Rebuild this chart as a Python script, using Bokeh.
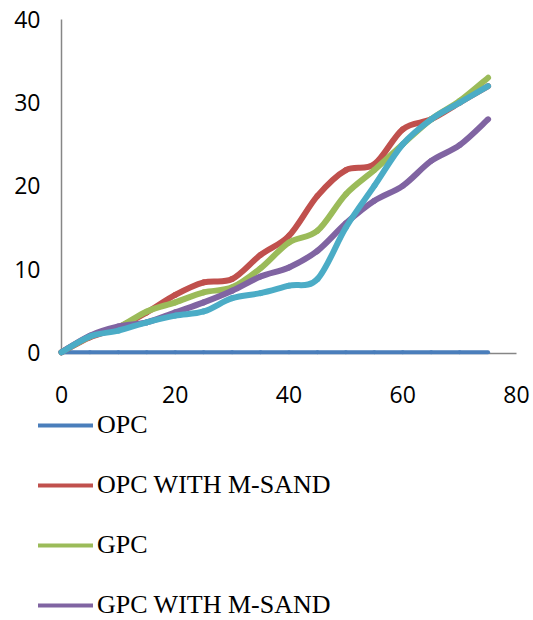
from bokeh.plotting import figure
from bokeh.layouts import column
from bokeh.models import ColumnDataSource, Range1d, Legend, LegendItem, FixedTicker
from bokeh.embed import file_html
from bokeh.resources import INLINE

# ---- data ----
x_vals = [0, 5, 10, 15, 20, 25, 30, 35, 40, 45, 50, 55, 60, 65, 70, 75]
opc = [0, 0, 0, 0, 0, 0, 0, 0, 0, 0, 0, 0, 0, 0, 0, 0]
opc_msand = [0, 1.8, 3, 4.8, 6.9, 8.4, 8.8, 11.7, 14, 18.8, 21.9, 22.6, 26.8, 28, 30, 32]
gpc = [0, 1.9, 3, 4.9, 6, 7.2, 7.8, 10.1, 13.2, 14.6, 19, 21.9, 25, 28, 30.2, 33]
gpc_msand = [0, 2, 3.1, 3.6, 4.8, 6, 7.4, 9.1, 10.2, 12.2, 15.5, 18.2, 20, 23, 24.9, 28]
fifth = [0, 1.9, 2.6, 3.6, 4.4, 4.9, 6.5, 7.1, 8, 8.8, 15, 20, 25, 28, 30, 32]

series_names = ["OPC", "OPC WITH M-SAND", "GPC", "GPC WITH M-SAND", None]
series_values = [opc, opc_msand, gpc, gpc_msand, fifth]
series_colors = ["#4A7EBB", "#C0504D", "#9BBB59", "#8064A2", "#4BACC6"]
series_widths = [4, 6, 6, 6, 6]

x_ticks = [0, 20, 40, 60, 80]
y_ticks = [0, 10, 20, 30, 40]


def smooth_source(xs, ys):
    """Catmull-Rom smoothing expressed as cubic Bezier segments (like a smoothed line)."""
    n = len(xs)
    d = dict(x0=[], y0=[], x1=[], y1=[], cx0=[], cy0=[], cx1=[], cy1=[])
    for i in range(n - 1):
        a = max(i - 1, 0)
        b = min(i + 2, n - 1)
        d["x0"].append(xs[i]); d["y0"].append(ys[i])
        d["x1"].append(xs[i + 1]); d["y1"].append(ys[i + 1])
        d["cx0"].append(xs[i] + (xs[i + 1] - xs[a]) / 6.0)
        d["cy0"].append(ys[i] + (ys[i + 1] - ys[a]) / 6.0)
        d["cx1"].append(xs[i + 1] - (xs[b] - xs[i]) / 6.0)
        d["cy1"].append(ys[i + 1] - (ys[b] - ys[i]) / 6.0)
    return ColumnDataSource(d)


# ---- main chart ----
p = figure(width=533, height=410, output_backend="svg", toolbar_location=None,
           x_range=Range1d(0, 80), y_range=Range1d(-0.15, 40),
           min_border_left=61, min_border_right=17, min_border_top=19,
           min_border_bottom=57, title=None)
p.frame_align = False
p.outline_line_color = None
p.xgrid.grid_line_color = None
p.ygrid.grid_line_color = None
p.background_fill_color = "white"
p.border_fill_color = "white"

for ax in (p.xaxis[0], p.yaxis[0]):
    ax.axis_line_color = "#868686"
    ax.axis_line_width = 1.5
    ax.major_tick_line_color = None
    ax.minor_tick_line_color = None
    ax.major_tick_out = 0
    ax.major_tick_in = 0
    ax.minor_tick_out = 0
    ax.major_label_text_font = "Open Sans"
    ax.major_label_text_font_size = "23px"
    ax.major_label_text_color = "black"

p.xaxis[0].ticker = FixedTicker(ticks=x_ticks)
p.yaxis[0].ticker = FixedTicker(ticks=y_ticks)
p.xaxis[0].major_label_standoff = 32
p.yaxis[0].major_label_standoff = 21

for vals, col, w in zip(series_values, series_colors, series_widths):
    src = smooth_source(x_vals, vals)
    p.bezier(x0="x0", y0="y0", x1="x1", y1="y1", cx0="cx0", cy0="cy0",
             cx1="cx1", cy1="cy1", source=src, line_color=col,
             line_width=w, line_cap="round", level="overlay")

# ---- legend panel below the chart ----
lg = figure(width=533, height=210, output_backend="svg", toolbar_location=None,
            x_range=Range1d(0, 1), y_range=Range1d(0, 1),
            x_axis_location=None, y_axis_location=None,
            min_border=0, min_border_left=0, min_border_right=0,
            min_border_top=0, min_border_bottom=0, title=None)
lg.frame_align = False
lg.outline_line_color = None
lg.xgrid.grid_line_color = None
lg.ygrid.grid_line_color = None

items = []
for name, col in zip(series_names, series_colors):
    if name is None:
        continue
    # swatch renderer: its points lie outside the visible range, only the legend shows it
    r = lg.line(x=[5, 6], y=[5, 6], line_color=col, line_width=4, line_cap="round")
    items.append(LegendItem(label=name, renderers=[r]))

legend = Legend(items=items, location=(38, 0), orientation="vertical",
                glyph_width=55, glyph_height=30, label_height=30,
                label_standoff=4, spacing=30, padding=0, margin=0,
                border_line_color=None, background_fill_alpha=0,
                label_text_font="Liberation Serif", label_text_font_size="26px",
                label_text_color="black")
lg.add_layout(legend)

layout = column(p, lg, spacing=0)
open("out.html", "w").write(file_html(layout, INLINE))
